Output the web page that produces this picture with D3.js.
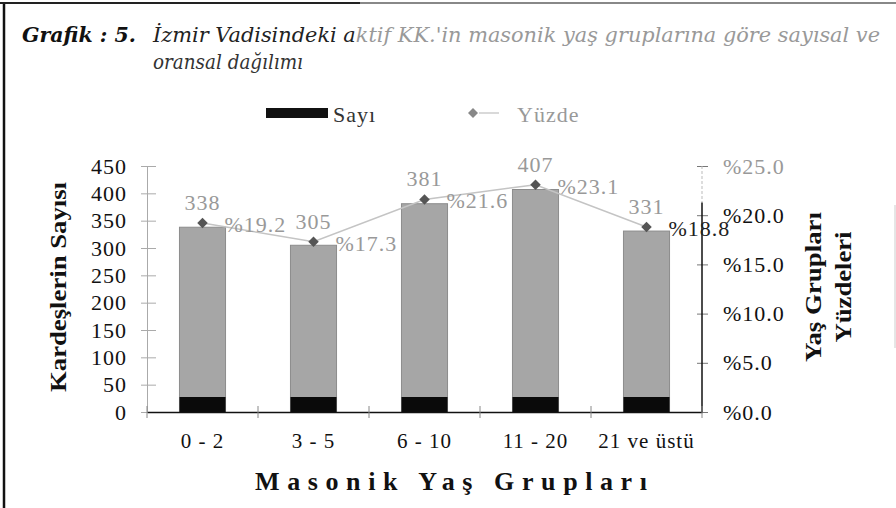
<!DOCTYPE html>
<html>
<head>
<meta charset="utf-8">
<script src="https://cdn.jsdelivr.net/npm/d3@7"></script>
<style>
  body { margin: 0; background: #fff; }
  svg { display: block; }
</style>
</head>
<body>
<div id="graph"></div>
<script>
// data
var categories = ["0 - 2", "3 - 5", "6 - 10", "11 - 20", "21 ve üstü"];
var counts = [338, 305, 381, 407, 331];
var percents = [19.2, 17.3, 21.6, 23.1, 18.8];
var countTicks = [0, 50, 100, 150, 200, 250, 300, 350, 400, 450];
var percentTicks = [0, 5, 10, 15, 20, 25];

var w = 896,
    h = 508,
    plotL = 147,
    plotR = 702,
    plotT = 166,
    plotB = 412,
    serif = "'Liberation Serif', 'Times New Roman', serif";

var svg = d3.select("#graph").append("svg").attr("width", w).attr("height", h);

var x = d3.scaleBand().domain(categories).range([plotL, plotR]).paddingInner(0.585).paddingOuter(0.2925);
var y = d3.scaleLinear().domain([0, 450]).range([plotB, plotT]);
var yp = d3.scaleLinear().domain([0, 25]).range([plotB, plotT]);

function cx(i) { return x(categories[i]) + x.bandwidth() / 2; }

// frame of the scanned page
svg.append("line").attr("x1", 4).attr("x2", 4).attr("y1", 3).attr("y2", h).attr("stroke", "#111").attr("stroke-width", 2.5);
svg.append("line").attr("x1", 0).attr("x2", 360).attr("y1", 3).attr("y2", 3).attr("stroke", "#222").attr("stroke-width", 2);
svg.append("line").attr("x1", 360).attr("x2", w).attr("y1", 3).attr("y2", 3).attr("stroke", "#888").attr("stroke-width", 2);
svg.append("line").attr("x1", 895).attr("x2", 895).attr("y1", 205).attr("y2", 348).attr("stroke", "#ccc").attr("stroke-width", 1);

// title
svg.append("text").attr("x", 22).attr("y", 42).attr("font-family", "'DejaVu Serif', serif")
  .attr("font-size", 21).attr("font-style", "italic").attr("font-weight", "bold").attr("fill", "#111")
  .attr("textLength", 114).attr("lengthAdjust", "spacingAndGlyphs").text("Grafik : 5.");
var t2 = svg.append("text").attr("x", 153).attr("y", 42).attr("font-family", "'DejaVu Serif', serif")
  .attr("font-size", 21).attr("font-style", "italic").attr("textLength", 727).attr("lengthAdjust", "spacingAndGlyphs");
t2.append("tspan").attr("fill", "#222").text("İzmir Vadisindeki a");
t2.append("tspan").attr("fill", "#999").text("ktif KK.'in masonik yaş gruplarına göre sayısal ve");
svg.append("text").attr("x", 153).attr("y", 69).attr("font-family", "'DejaVu Serif', serif")
  .attr("font-size", 21).attr("font-style", "italic").attr("fill", "#333")
  .attr("textLength", 150).attr("lengthAdjust", "spacingAndGlyphs").text("oransal dağılımı");

// legend
var legend = svg.append("g").attr("font-family", serif).attr("font-size", 22).attr("letter-spacing", 1);
legend.append("rect").attr("x", 266).attr("y", 108).attr("width", 62).attr("height", 10).attr("fill", "#111");
legend.append("text").attr("x", 333).attr("y", 122).attr("fill", "#333").text("Sayı");
legend.append("line").attr("x1", 479).attr("x2", 499).attr("y1", 113).attr("y2", 113).attr("stroke", "#ccc").attr("stroke-width", 1.5);
legend.append("path").attr("d", d3.symbol(d3.symbolSquare, 50)()).attr("transform", "translate(473,113) rotate(45)").attr("fill", "#888");
legend.append("text").attr("x", 517).attr("y", 122).attr("fill", "#999").text("Yüzde");

// bars: grey column with a dark base
var bars = svg.append("g");
bars.selectAll("rect.bar").data(counts).enter().append("rect").attr("class", "bar")
  .attr("x", function(d, i) { return x(categories[i]); })
  .attr("y", function(d) { return y(d); })
  .attr("width", x.bandwidth())
  .attr("height", function(d) { return y(0) - y(d); })
  .attr("fill", "#a6a6a6").attr("stroke", "#8c8c8c").attr("stroke-width", 1);
bars.selectAll("rect.base").data(counts).enter().append("rect").attr("class", "base")
  .attr("x", function(d, i) { return x(categories[i]); })
  .attr("y", y(0) - 15)
  .attr("width", x.bandwidth())
  .attr("height", 15)
  .attr("fill", "#0a0a0a");

// left axis
var ya = svg.append("g").attr("transform", "translate(" + plotL + ",0)")
  .call(d3.axisLeft(y).tickValues(countTicks).tickSize(6).tickPadding(14).tickSizeOuter(0));
ya.select(".domain").attr("stroke", "#aaa");
ya.selectAll(".tick line").attr("x1", 9).attr("x2", -6).attr("stroke", "#aaa");
ya.selectAll(".tick text").attr("font-family", serif).attr("font-size", 22).attr("letter-spacing", 1).attr("fill", "#111");

// right axis
var yr = svg.append("g").attr("transform", "translate(" + plotR + ",0)")
  .call(d3.axisRight(yp).tickValues(percentTicks).tickSize(6).tickPadding(15).tickSizeOuter(0)
    .tickFormat(function(d) { return "%" + d.toFixed(1); }));
yr.select(".domain").remove();
yr.selectAll(".tick line").attr("x1", -5).attr("x2", 6).attr("stroke", "#777");
yr.selectAll(".tick text").attr("font-family", serif).attr("font-size", 22).attr("letter-spacing", 1)
  .attr("fill", function(d) { return d == 25 ? "#999" : "#111"; });
yr.append("line").attr("y1", yp(25)).attr("y2", yp(21.3)).attr("stroke", "#bbb").attr("stroke-dasharray", "3,2");
yr.append("line").attr("y1", yp(21.3)).attr("y2", yp(0)).attr("stroke", "#111").attr("stroke-width", 1.5);

// bottom axis
var xa = svg.append("g").attr("transform", "translate(0," + plotB + ")")
  .call(d3.axisBottom(x).tickSize(0).tickPadding(21));
xa.select(".domain").attr("stroke", "#111").attr("stroke-width", 1.5);
xa.selectAll(".tick text").attr("font-family", serif).attr("font-size", 21).attr("letter-spacing", 1).attr("fill", "#111");
xa.selectAll("line.sep").data(d3.range(categories.length + 1)).enter().append("line").attr("class", "sep")
  .attr("x1", function(i) { return plotL + i * x.step(); })
  .attr("x2", function(i) { return plotL + i * x.step(); })
  .attr("y1", -6).attr("y2", 6).attr("stroke", "#888");

// axis titles
function vtitle(cxp, len, txt) {
  svg.append("text").attr("transform", "translate(" + cxp + ",287) rotate(-90)").attr("text-anchor", "middle")
    .attr("dy", "0.35em").attr("font-family", serif).attr("font-size", 23).attr("font-weight", "bold")
    .attr("fill", "#111").attr("textLength", len).attr("lengthAdjust", "spacingAndGlyphs").text(txt);
}
vtitle(58, 210, "Kardeşlerin Sayısı");
vtitle(813, 150, "Yaş Grupları");
vtitle(843, 111, "Yüzdeleri");
svg.append("text").attr("x", 255).attr("y", 490).attr("font-family", serif).attr("font-size", 26)
  .attr("font-weight", "bold").attr("fill", "#111").attr("textLength", 392).attr("lengthAdjust", "spacing")
  .text("Masonik Yaş Grupları");

// percentage line with diamonds
var line = d3.line().x(function(d, i) { return cx(i); }).y(function(d) { return yp(d); });
svg.append("path").datum(percents).attr("d", line).attr("fill", "none").attr("stroke", "#c4c4c4").attr("stroke-width", 1.5);
svg.selectAll("path.dot").data(percents).enter().append("path").attr("class", "dot")
  .attr("d", d3.symbol(d3.symbolSquare, 55)())
  .attr("transform", function(d, i) { return "translate(" + cx(i) + "," + yp(d) + ") rotate(45)"; })
  .attr("fill", "#555");

// value labels
var labels = svg.append("g").attr("font-family", serif).attr("font-size", 22).attr("letter-spacing", 1);
labels.selectAll("text.count").data(counts).enter().append("text").attr("class", "count")
  .attr("x", function(d, i) { return cx(i); })
  .attr("y", function(d, i) { return yp(percents[i]) - 13; })
  .attr("text-anchor", "middle").attr("fill", "#999").text(function(d) { return d; });
labels.selectAll("text.pct").data(percents).enter().append("text").attr("class", "pct")
  .attr("x", function(d, i) { return cx(i) + 22; })
  .attr("y", function(d) { return yp(d) + 9; })
  .attr("fill", function(d, i) { return i == percents.length - 1 ? "#222" : "#999"; })
  .text(function(d) { return "%" + d.toFixed(1); });
</script>
</body>
</html>
